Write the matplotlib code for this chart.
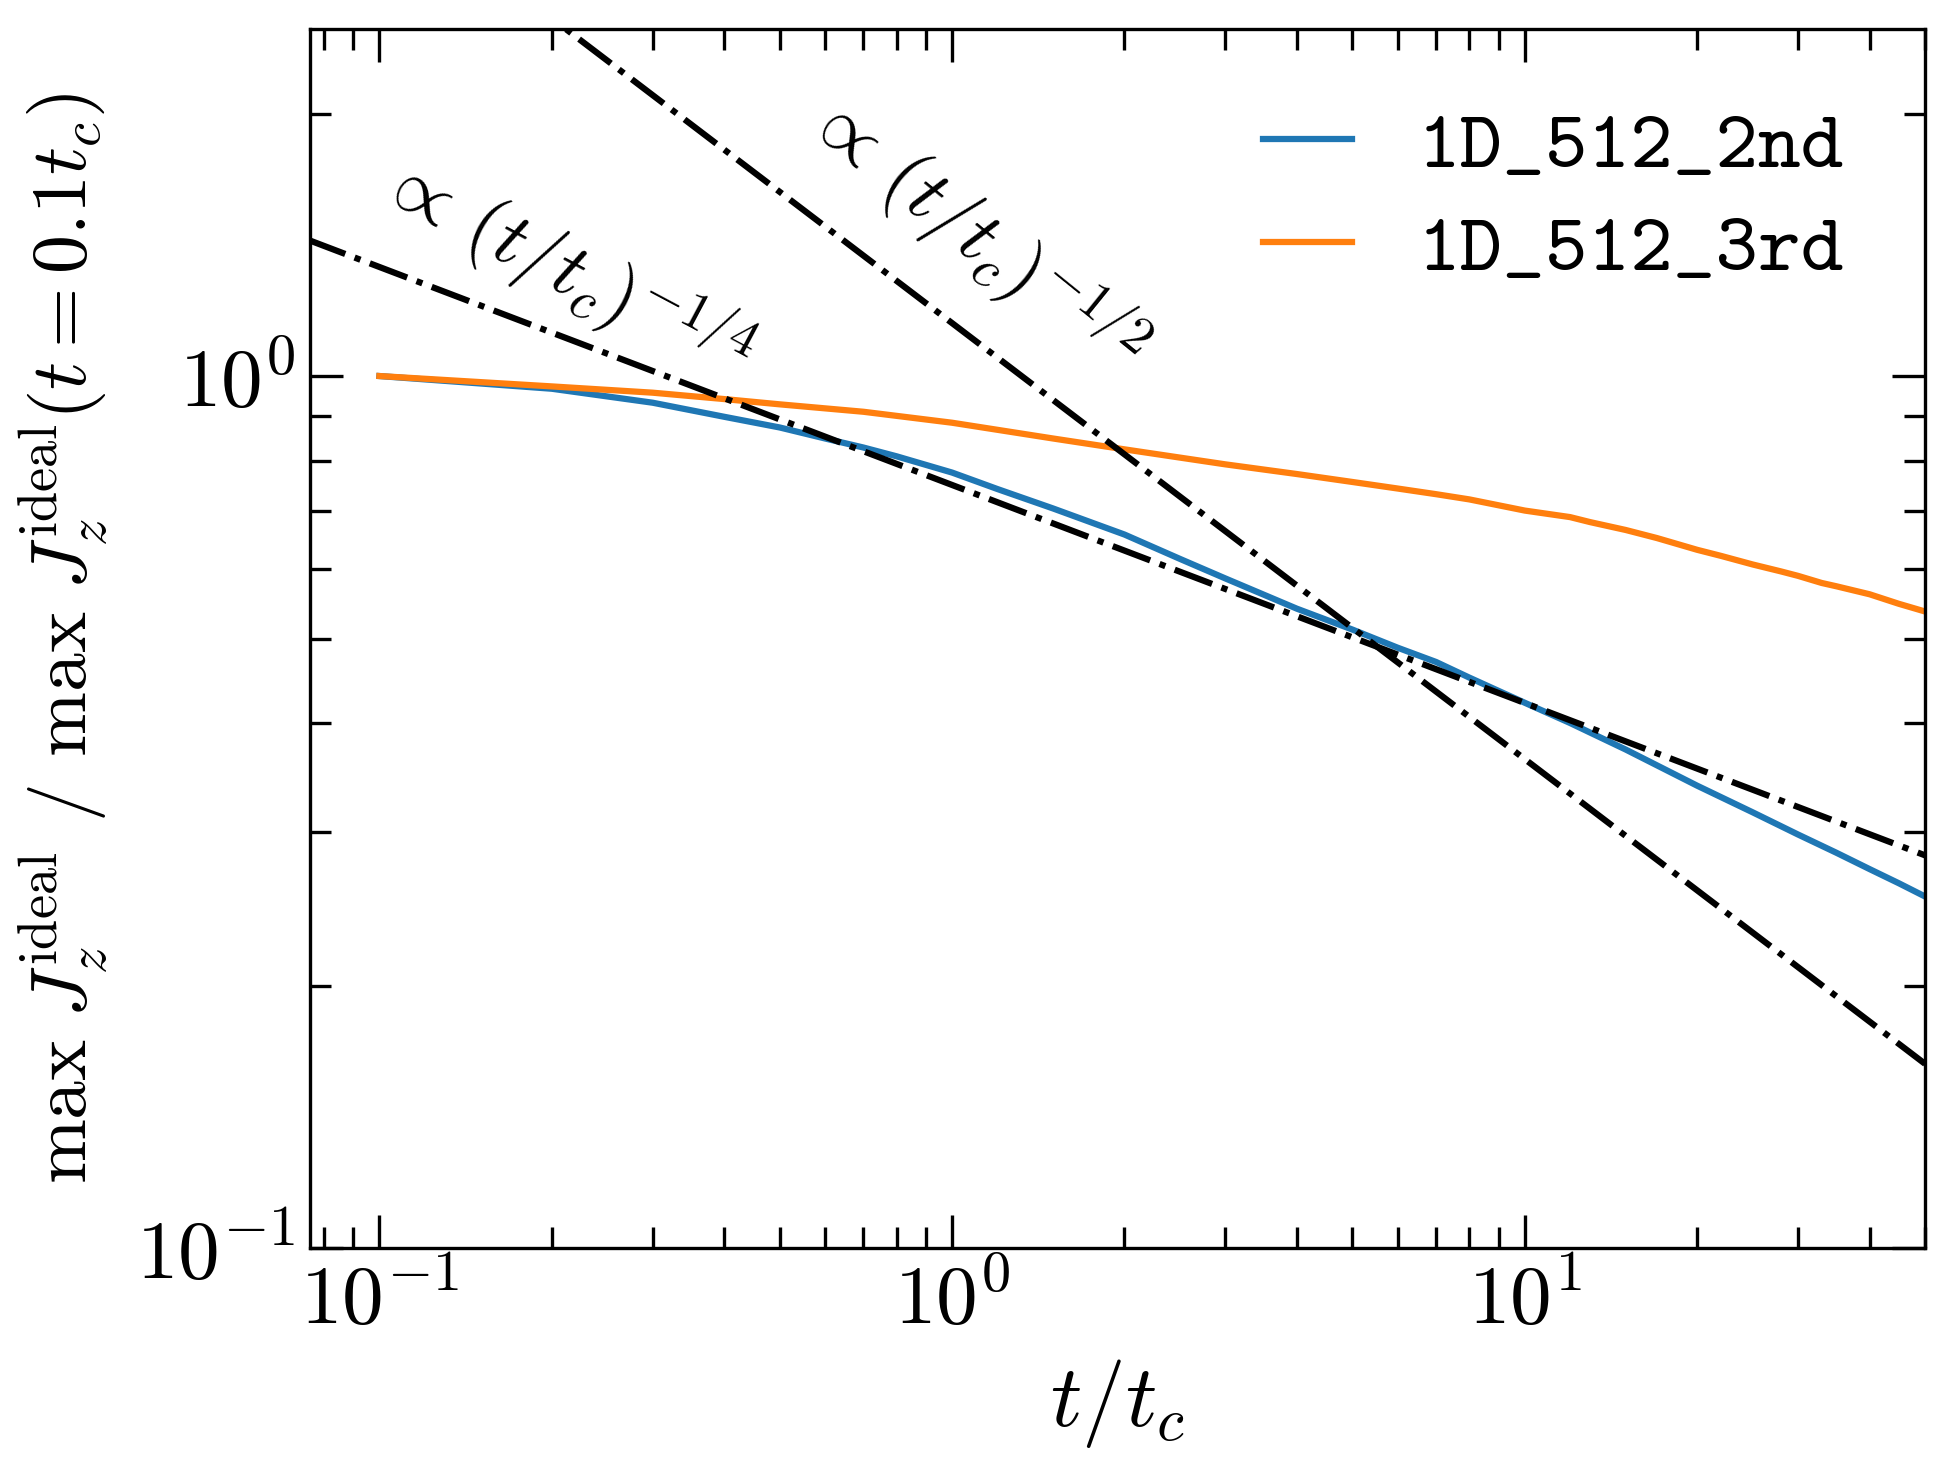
import numpy as np
import matplotlib
matplotlib.use("Agg")
import matplotlib.pyplot as plt

plt.rcParams['mathtext.fontset'] = 'cm'
plt.rcParams['font.family'] = 'serif'
plt.rcParams['font.serif'] = ['cmr10']
plt.rcParams['axes.formatter.use_mathtext'] = True

# data
t_2nd = [0.1, 0.2, 0.3, 0.4, 0.5, 0.6, 0.7, 0.8, 1.0, 1.2, 1.5, 2.0, 2.5,
         3.0, 4.0, 5.0, 6.0, 7.0, 8.0, 10.0, 12.0, 15.0, 20.0, 25.0, 30.0,
         35.0, 40.0, 45.0, 50.0]
j_2nd = [1.0, 0.967, 0.932, 0.898, 0.873, 0.848, 0.828, 0.809, 0.775, 0.742,
         0.705, 0.658, 0.617, 0.586, 0.541, 0.512, 0.488, 0.470, 0.451, 0.422,
         0.400, 0.373, 0.339, 0.316, 0.298, 0.284, 0.272, 0.262, 0.253]

t_3rd = [0.1, 0.2, 0.3, 0.4, 0.5, 0.7, 1.0, 1.5, 2.0, 3.0, 4.0, 5.0, 6.0,
         7.0, 8.0, 10.0, 12.0, 13.0, 15.0, 17.0, 20.0, 22.0, 25.0, 28.0,
         30.0, 33.0, 35.0, 40.0, 45.0, 50.0]
j_3rd = [1.0, 0.973, 0.957, 0.941, 0.928, 0.910, 0.884, 0.848, 0.824, 0.792,
         0.772, 0.756, 0.743, 0.732, 0.722, 0.701, 0.689, 0.680, 0.666, 0.652,
         0.632, 0.622, 0.608, 0.597, 0.590, 0.579, 0.574, 0.562, 0.548, 0.537]

# reference power laws
amp_quarter = 0.75
amp_half = 1.15
t_ref = np.array([0.075, 50.0])

fig = plt.figure(figsize=(1954/300, 1474/300), dpi=300)
ax = fig.add_axes([0.1584, 0.1533, 0.9852-0.1584, 0.9803-0.1533])

ax.plot(t_2nd, j_2nd, color='#1f77b4', lw=1.5, label='1D_512_2nd')
ax.plot(t_3rd, j_3rd, color='#ff7f0e', lw=1.5, label='1D_512_3rd')
ax.plot(t_ref, amp_quarter*t_ref**(-0.25), 'k-.', lw=1.5)
ax.plot(t_ref, amp_half*t_ref**(-0.5), 'k-.', lw=1.5)

ax.set_xscale('log')
ax.set_yscale('log')
ax.set_xlim(0.0755, 50)
ax.set_ylim(0.1, 2.5)

ax.tick_params(which='both', direction='in', top=True, right=True,
               labelsize=20, width=0.8)
ax.tick_params(which='major', length=8)
ax.tick_params(which='minor', length=5)
for s in ax.spines.values():
    s.set_linewidth(0.8)

ax.set_xlabel(r'$t/t_c$', fontsize=21)
ax.set_ylabel(r'$\max\ J_z^{\mathrm{ideal}}$ / $\max\ J_z^{\mathrm{ideal}}(t=0.1t_c)$',
              fontsize=18.7, labelpad=6)

ax.text(0.212, 1.33, r'$\propto\,(t/t_c)^{-1/4}$', fontsize=18.5, rotation=-28,
        ha='center', va='center')
ax.text(1.1, 1.46, r'$\propto\,(t/t_c)^{-1/2}$', fontsize=18.5, rotation=-39,
        ha='center', va='center')

ax.legend(loc='upper right', frameon=False, prop={'family': 'cmtt10', 'size': 19.5},
          handlelength=1.1, handletextpad=0.8, labelspacing=0.35,
          borderaxespad=0.6)

fig.savefig('out.png', dpi=300)
